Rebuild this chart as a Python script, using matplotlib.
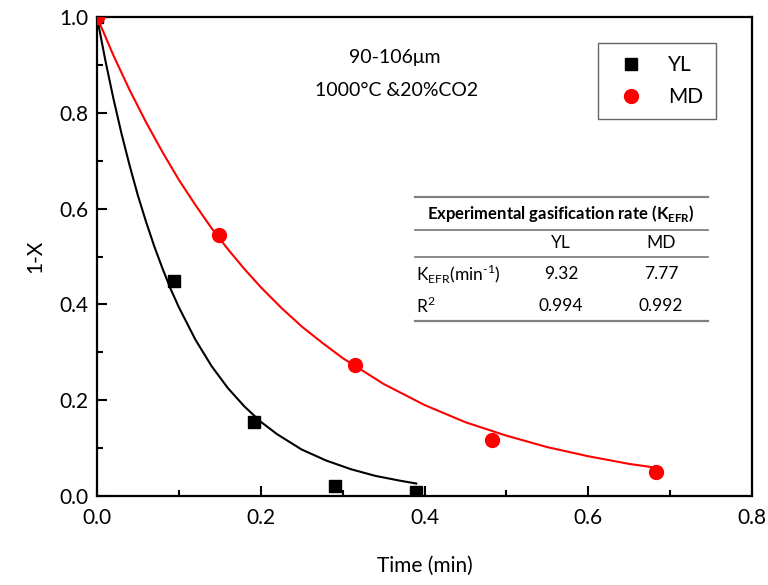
import matplotlib
matplotlib.use("Agg")
import matplotlib.pyplot as plt
from matplotlib.lines import Line2D

plt.rcParams['font.family'] = ['Lato', 'DejaVu Sans']
plt.rcParams['mathtext.fontset'] = 'custom'
plt.rcParams['mathtext.rm'] = 'Lato'
plt.rcParams['mathtext.bf'] = 'Lato:bold'

# Measured conversion data (1-X vs time)
yl_time = [0.0, 0.094, 0.192, 0.291, 0.390]
yl_val = [1.0, 0.449, 0.154, 0.021, 0.008]
md_time = [0.0, 0.149, 0.315, 0.482, 0.683]
md_val = [1.0, 0.545, 0.274, 0.117, 0.050]

# Fitted curves
yl_fit_t = [0.0, 0.01, 0.02, 0.03, 0.04, 0.05, 0.06, 0.07, 0.08, 0.09, 0.10,
            0.12, 0.14, 0.16, 0.18, 0.20, 0.22, 0.25, 0.28, 0.31, 0.34, 0.37, 0.39]
yl_fit_v = [1.0, 0.911, 0.830, 0.756, 0.689, 0.627, 0.572, 0.521, 0.475, 0.432,
            0.394, 0.327, 0.271, 0.225, 0.187, 0.155, 0.129, 0.097, 0.074, 0.056,
            0.042, 0.032, 0.026]
md_fit_t = [0.0, 0.02, 0.04, 0.06, 0.08, 0.10, 0.12, 0.14, 0.16, 0.18, 0.20,
            0.225, 0.25, 0.275, 0.30, 0.35, 0.40, 0.45, 0.50, 0.55, 0.60, 0.65, 0.683]
md_fit_v = [1.0, 0.920, 0.847, 0.780, 0.718, 0.660, 0.608, 0.559, 0.515, 0.474,
            0.436, 0.393, 0.354, 0.320, 0.288, 0.234, 0.190, 0.154, 0.126, 0.102,
            0.083, 0.067, 0.059]

# Table contents
table_title = r"Experimental gasification rate (K$_{\mathregular{EFR}}$)"
table_cols = ["YL", "MD"]
table_rows = [r"K$_{\mathregular{EFR}}$(min$^{\text{-1}}$)", r"R$^{\mathregular{2}}$"]
table_vals = [["9.32", "7.77"], ["0.994", "0.992"]]

fig = plt.figure(figsize=(7.68, 5.85), dpi=100)
ax = fig.add_axes([97/768, 1-496/585, 655/768, 479/585])

ax.plot(yl_fit_t, yl_fit_v, color='black', lw=1.5, zorder=2)
ax.plot(md_fit_t, md_fit_v, color='#ff0000', lw=1.5, zorder=2)
ax.plot(yl_time, yl_val, ls='none', marker='s', ms=9, color='black', zorder=3)
ax.plot(md_time, md_val, ls='none', marker='o', ms=10, color='#ff0000', zorder=3)

ax.set_xlim(0, 0.8)
ax.set_ylim(0, 1.0)
ax.set_xticks([0.0, 0.2, 0.4, 0.6, 0.8])
ax.set_yticks([0.0, 0.2, 0.4, 0.6, 0.8, 1.0])
ax.set_xticks([0.1, 0.3, 0.5, 0.7], minor=True)
ax.set_yticks([0.1, 0.3, 0.5, 0.7, 0.9], minor=True)
ax.tick_params(which='both', direction='in', width=1.5, labelsize=15, top=False, right=False)
ax.tick_params(which='major', length=7)
ax.tick_params(which='minor', length=4)
ax.tick_params(axis='x', pad=9)
ax.tick_params(axis='y', pad=6)
for s in ax.spines.values():
    s.set_linewidth(1.6)

ax.set_xlabel("Time (min)", fontsize=15, labelpad=20)
ax.set_ylabel("1-X", fontsize=15, labelpad=10)

ax.text(0.454, 0.915, "90-106\u03bcm", transform=ax.transAxes, ha='center', va='center', fontsize=14)
ax.text(0.458, 0.847, "1000\u00b0C &20%CO2", transform=ax.transAxes, ha='center', va='center', fontsize=14)

handles = [Line2D([], [], ls='none', marker='s', ms=9, color='black'),
           Line2D([], [], ls='none', marker='o', ms=10, color='#ff0000')]
leg = ax.legend(handles, ["YL", "MD"], loc='upper right', bbox_to_anchor=(0.945, 0.946),
                fontsize=15, frameon=True, fancybox=False, edgecolor='#404040',
                borderpad=0.6, handletextpad=0.8, labelspacing=0.55, borderaxespad=0)
leg.get_frame().set_linewidth(1.0)

# table drawn in axes coordinates
def px_x(p):
    return (p - 97) / 655

def px_y(p):
    return (496 - p) / 479

x0, x1 = px_x(415), px_x(708)
for yp, lw in [(197, 1.6), (230, 1.3), (257, 1.3), (321, 1.6)]:
    ax.plot([x0, x1], [px_y(yp), px_y(yp)], transform=ax.transAxes, color='#808080', lw=lw, clip_on=False)
ax.text(px_x(561), px_y(214), table_title, transform=ax.transAxes, ha='center', va='center',
        fontsize=12, fontweight='bold')
col_x = [561, 661]
for cx, c in zip(col_x, table_cols):
    ax.text(px_x(cx), px_y(243), c, transform=ax.transAxes, ha='center', va='center', fontsize=12.5)
for ry, lab, vals in zip([274, 306], table_rows, table_vals):
    ax.text(px_x(416), px_y(ry), lab, transform=ax.transAxes, ha='left', va='center', fontsize=12.5)
    for cx, v in zip(col_x, vals):
        ax.text(px_x(cx), px_y(ry), v, transform=ax.transAxes, ha='center', va='center', fontsize=12.5)

fig.savefig("out.png", dpi=100)
